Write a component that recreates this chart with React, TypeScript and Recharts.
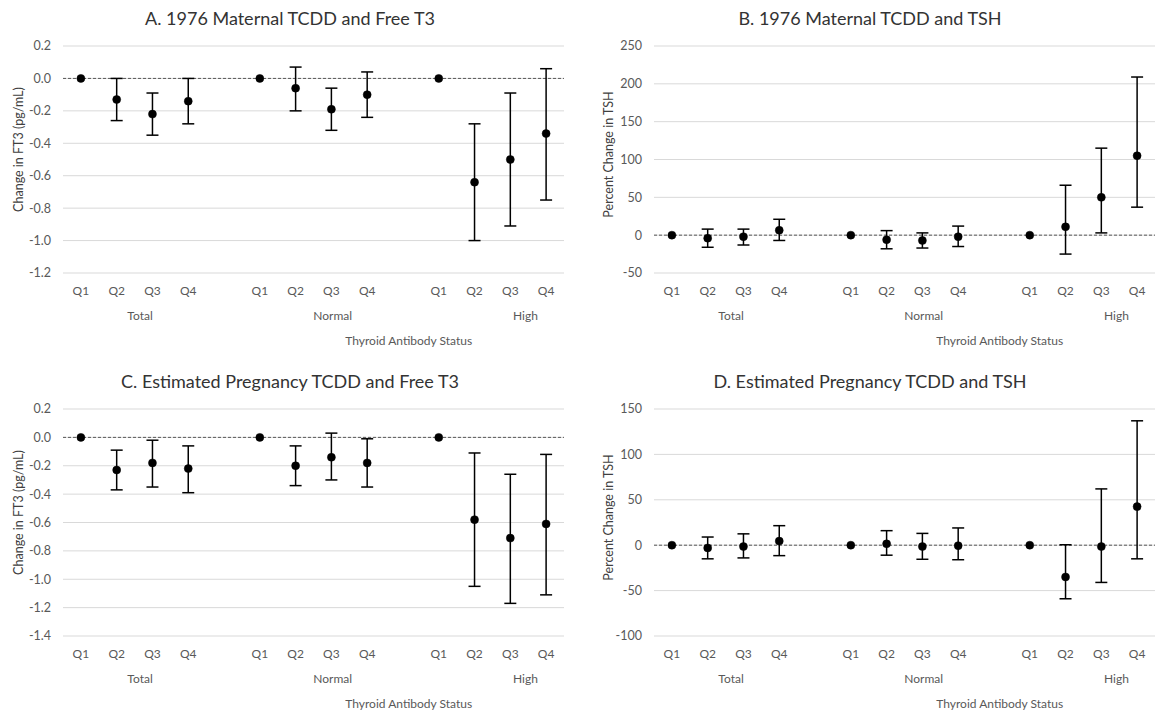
import React from "react";
import {
  ComposedChart,
  Line,
  ErrorBar,
  XAxis,
  YAxis,
  CartesianGrid,
  ReferenceLine,
} from "recharts";

const FONT = "Lato, 'Open Sans', sans-serif";

const quartiles = ["Q1", "Q2", "Q3", "Q4"];
const groups = ["Total", "Normal", "High"];
const xAxisTitle = "Thyroid Antibody Status";

// Panel A: 1976 Maternal TCDD and Free T3
const aEst = [0, -0.13, -0.22, -0.14, 0, -0.06, -0.19, -0.1, 0, -0.64, -0.5, -0.34];
const aLow = [null, -0.26, -0.35, -0.28, null, -0.2, -0.32, -0.24, null, -1.0, -0.91, -0.75];
const aHigh = [null, 0.0, -0.09, 0.0, null, 0.07, -0.06, 0.04, null, -0.28, -0.09, 0.06];
const aTicks = [0.2, 0.0, -0.2, -0.4, -0.6, -0.8, -1.0, -1.2];

// Panel B: 1976 Maternal TCDD and TSH
const bEst = [0, -4, -2, 6.5, 0, -6, -7, -2, 0, 11, 50, 105];
const bLow = [null, -16, -13, -7, null, -18, -17, -15, null, -25, 3, 37];
const bHigh = [null, 8, 8, 21, null, 6, 3, 12, null, 66, 115, 209];
const bTicks = [250, 200, 150, 100, 50, 0, -50];

// Panel C: Estimated Pregnancy TCDD and Free T3
const cEst = [0, -0.23, -0.18, -0.22, 0, -0.2, -0.14, -0.18, 0, -0.58, -0.71, -0.61];
const cLow = [null, -0.37, -0.35, -0.39, null, -0.34, -0.3, -0.35, null, -1.05, -1.17, -1.11];
const cHigh = [null, -0.09, -0.02, -0.06, null, -0.06, 0.03, -0.01, null, -0.11, -0.26, -0.12];
const cTicks = [0.2, 0.0, -0.2, -0.4, -0.6, -0.8, -1.0, -1.2, -1.4];

// Panel D: Estimated Pregnancy TCDD and TSH
const dEst = [0, -3, -1.5, 4.5, 0, 1.5, -1.5, -0.5, 0, -35, -1.5, 42.5];
const dLow = [null, -15, -14, -11.5, null, -11, -15.5, -16, null, -59, -41, -15];
const dHigh = [null, 9, 12.5, 21.5, null, 16, 13, 19, null, 0.5, 62, 137];
const dTicks = [150, 100, 50, 0, -50, -100];

type Row = { key: string; q: string; est?: number; err?: [number, number] };

function buildRows(est: number[], low: (number | null)[], high: (number | null)[]): Row[] {
  const rows: Row[] = [];
  groups.forEach((g, gi) => {
    if (gi > 0) rows.push({ key: `gap-${gi}`, q: "" });
    quartiles.forEach((q, qi) => {
      const i = gi * quartiles.length + qi;
      const e = est[i];
      const lo = low[i];
      const hi = high[i];
      rows.push({
        key: `${g}-${q}`,
        q,
        est: e,
        err: lo == null || hi == null ? undefined : [e - lo, hi - e],
      });
    });
  });
  return rows;
}

const groupCenters = groups.map((_, gi) => gi * (quartiles.length + 1) + quartiles.length / 2);

type PanelProps = {
  title: string;
  yLabel: string;
  est: number[];
  low: (number | null)[];
  high: (number | null)[];
  ticks: number[];
  digits: number;
  left: number;
  top: number;
  height: number;
  margin: { top: number; right: number; bottom: number; left: number };
  yWidth: number;
  yLabelOffset: number;
  yLabelShift: number;
  titleY: number;
};

function Panel(p: PanelProps) {
  const rows = buildRows(p.est, p.low, p.high);
  const labelOf: Record<string, string> = {};
  rows.forEach((r) => (labelOf[r.key] = r.q));
  const domain = [Math.min(...p.ticks), Math.max(...p.ticks)];

  const QTick = (props: any) => {
    const { x, y, payload } = props;
    return (
      <text x={x} y={y} dy={22} textAnchor="middle" fill="#595959" fontSize={12} fontFamily={FONT}>
        {labelOf[payload.value]}
      </text>
    );
  };

  const GTick = (props: any) => {
    const { x, y, payload } = props;
    const gi = groupCenters.indexOf(payload.value);
    return (
      <text x={x} y={y} dy={16.5} textAnchor="middle" fill="#595959" fontSize={12} fontFamily={FONT}>
        {gi >= 0 ? groups[gi] : ""}
      </text>
    );
  };

  const GTitle = (props: any) => {
    const vb = props.viewBox || {};
    const cx = vb.x + vb.width * 0.69;
    return (
      <text x={cx} y={vb.y} dy={41.5} textAnchor="middle" fill="#595959" fontSize={12} fontFamily={FONT}>
        {xAxisTitle}
      </text>
    );
  };

  const YTitle = (props: any) => {
    const vb = props.viewBox || {};
    const cx = vb.x + p.yLabelOffset;
    const cy = vb.y + vb.height / 2 + p.yLabelShift;
    return (
      <text
        x={cx}
        y={cy}
        transform={`rotate(-90, ${cx}, ${cy})`}
        textAnchor="middle"
        dominantBaseline="central"
        fill="#404040"
        fontSize={12.5}
        fontFamily={FONT}
      >
        {p.yLabel}
      </text>
    );
  };

  return (
    <div style={{ position: "absolute", left: p.left, top: p.top, width: 580, height: p.height }}>
      <div
        style={{
          position: "absolute",
          left: 0,
          top: p.titleY - 12,
          width: 580,
          height: 24,
          lineHeight: "24px",
          textAlign: "center",
          fontFamily: FONT,
          fontSize: 18,
          color: "#333333",
        }}
      >
        {p.title}
      </div>
      <ComposedChart width={580} height={p.height} data={rows} margin={p.margin}>
        <CartesianGrid vertical={false} stroke="#d9d9d9" strokeWidth={1} xAxisId={0} />
        <XAxis
          xAxisId={0}
          dataKey="key"
          type="category"
          scale="band"
          axisLine={false}
          tickLine={false}
          tickSize={0}
          tickMargin={0}
          height={30}
          interval={0}
          tick={<QTick />}
        />
        <XAxis
          xAxisId={1}
          type="number"
          domain={[0, rows.length]}
          allowDataOverflow
          ticks={groupCenters}
          axisLine={false}
          tickLine={false}
          tickSize={0}
          tickMargin={0}
          height={40}
          interval={0}
          tick={<GTick />}
          label={<GTitle />}
        />
        <YAxis
          type="number"
          domain={domain}
          ticks={p.ticks}
          allowDataOverflow
          axisLine={false}
          tickLine={false}
          tickSize={0}
          tickMargin={12}
          width={p.yWidth}
          interval={0}
          tickFormatter={(v: number) => v.toFixed(p.digits)}
          tick={{ fill: "#595959", fontSize: 12.5, fontFamily: FONT }}
          label={<YTitle />}
        />
        <ReferenceLine xAxisId={0} y={0} stroke="#595959" strokeDasharray="3 2" strokeWidth={1} />
        <Line
          xAxisId={0}
          dataKey="est"
          stroke="none"
          isAnimationActive={false}
          dot={{ r: 4, fill: "#000000", stroke: "#000000", strokeWidth: 0.5 }}
          activeDot={false}
          connectNulls={false}
        >
          <ErrorBar dataKey="err" direction="y" width={6} stroke="#000000" strokeWidth={1.5} isAnimationActive={false} />
        </Line>
      </ComposedChart>
    </div>
  );
}

export default function App() {
  return (
    <div style={{ position: "absolute", left: 0, top: 0, width: 1160, height: 713, background: "#ffffff", overflow: "hidden" }}>
      <Panel
        title="A. 1976 Maternal TCDD and Free T3"
        yLabel="Change in FT3 (pg/mL)"
        est={aEst}
        low={aLow}
        high={aHigh}
        ticks={aTicks}
        digits={1}
        left={0}
        top={0}
        height={360}
        margin={{ top: 46, right: 16, bottom: 17, left: 13 }}
        yWidth={50}
        yLabelOffset={5}
        yLabelShift={-10}
        titleY={18}
      />
      <Panel
        title="B. 1976 Maternal TCDD and TSH"
        yLabel="Percent Change in TSH"
        est={bEst}
        low={bLow}
        high={bHigh}
        ticks={bTicks}
        digits={0}
        left={580}
        top={0}
        height={360}
        margin={{ top: 46, right: 5, bottom: 17, left: 19 }}
        yWidth={55}
        yLabelOffset={9}
        yLabelShift={-5}
        titleY={18}
      />
      <Panel
        title="C. Estimated Pregnancy TCDD and Free T3"
        yLabel="Change in FT3 (pg/mL)"
        est={cEst}
        low={cLow}
        high={cHigh}
        ticks={cTicks}
        digits={1}
        left={0}
        top={360}
        height={353}
        margin={{ top: 49, right: 16, bottom: 7, left: 13 }}
        yWidth={50}
        yLabelOffset={5}
        yLabelShift={-10}
        titleY={21}
      />
      <Panel
        title="D. Estimated Pregnancy TCDD and TSH"
        yLabel="Percent Change in TSH"
        est={dEst}
        low={dLow}
        high={dHigh}
        ticks={dTicks}
        digits={0}
        left={580}
        top={360}
        height={353}
        margin={{ top: 49, right: 5, bottom: 7, left: 19 }}
        yWidth={55}
        yLabelOffset={9}
        yLabelShift={-5}
        titleY={21}
      />
    </div>
  );
}
